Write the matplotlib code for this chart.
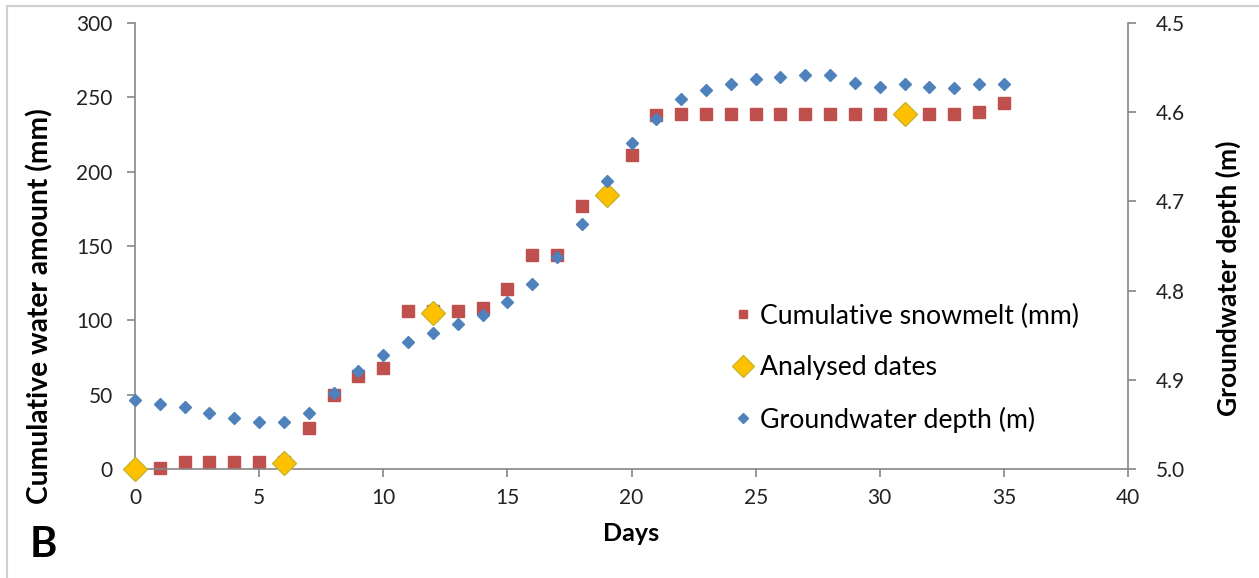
import matplotlib
matplotlib.use("Agg")
import matplotlib.pyplot as plt
from matplotlib.lines import Line2D
from matplotlib.ticker import FormatStrFormatter

plt.rcParams['font.family'] = ['Lato', 'DejaVu Sans']

days = list(range(36))
snowmelt = [0, 0.7, 4.5, 4.5, 4.5, 4.5, 4.5, 27.5, 49.5, 62.5, 68, 106, 106, 106, 108, 121,
            144, 144, 177, 184, 211, 238, 238.5, 238.5, 238.5, 238.5, 238.5, 239, 239, 239,
            239, 239, 239, 239, 240, 246]
analysed_days = [0, 6, 12, 19, 31]
analysed_vals = [0, 4, 105, 184, 239]
groundwater = [4.923, 4.927, 4.930, 4.937, 4.943, 4.947, 4.947, 4.937, 4.915, 4.890,
               4.872, 4.858, 4.848, 4.837, 4.827, 4.813, 4.793, 4.762, 4.725, 4.677,
               4.635, 4.608, 4.585, 4.575, 4.568, 4.563, 4.560, 4.558, 4.558, 4.567,
               4.572, 4.568, 4.572, 4.573, 4.568, 4.568]

W, H = 1259, 578
fig = plt.figure(figsize=(W / 100, H / 100), dpi=100)
ax = fig.add_axes([135 / W, 1 - 469 / H, (1128 - 135) / W, (469 - 23) / H])
ax2 = ax.twinx()

red = '#C0504D'
blue = '#4F81BD'
yellow = '#FFC000'
spine_c = '#868686'

ax.plot(days, snowmelt, linestyle='none', marker='s', markersize=8, color=red,
        markeredgecolor=red, clip_on=False)
ax.plot(analysed_days, analysed_vals, linestyle='none', marker='D', markersize=12,
        color=yellow, markeredgecolor='#C8B62A', markeredgewidth=1, clip_on=False, zorder=3)
ax2.plot(days, groundwater, linestyle='none', marker='D', markersize=6.5, color=blue,
         markeredgecolor=blue, clip_on=False)

ax.set_xlim(0, 40)
ax.set_ylim(0, 300)
ax2.set_ylim(5.0, 4.5)
ax.set_xticks(range(0, 41, 5))
ax.set_yticks(range(0, 301, 50))
ax2.set_yticks([4.5, 4.6, 4.7, 4.8, 4.9, 5.0])
ax2.yaxis.set_major_formatter(FormatStrFormatter('%.1f'))

for a in (ax, ax2):
    for s in a.spines.values():
        s.set_color(spine_c)
        s.set_linewidth(1.2)
    a.spines['top'].set_visible(False)
    a.tick_params(direction='out', length=6, width=1.2, color=spine_c,
                  labelsize=15, labelcolor='#222222', pad=6)
ax.spines['right'].set_visible(False)
ax2.spines['left'].set_visible(False)
ax2.spines['bottom'].set_visible(False)
ax.tick_params(axis='y', pad=10)
ax2.tick_params(axis='y', pad=14)
ax.tick_params(axis='x', pad=8)

xl = ax.set_xlabel('Days', fontsize=18.5, fontweight='bold', labelpad=10)
yl = ax.set_ylabel('Cumulative water amount (mm)', fontsize=19, fontweight='bold',
                   va='center', ha='center')
ax.yaxis.set_label_coords((40 - 135) / 993, (469 - 306) / 446)
yl2 = ax2.set_ylabel('Groundwater depth (m)', fontsize=17.5, fontweight='bold',
                     va='center', ha='center')
ax2.yaxis.set_label_coords((1228 - 135) / 993, (469 - 278) / 446)

handles = [
    Line2D([], [], linestyle='none', marker='s', markersize=6, color=red),
    Line2D([], [], linestyle='none', marker='D', markersize=11, color=yellow,
           markeredgecolor='#C8B62A'),
    Line2D([], [], linestyle='none', marker='D', markersize=5, color=blue),
]
labels = ['Cumulative snowmelt (mm)', 'Analysed dates', 'Groundwater depth (m)']
leg = ax2.legend(handles, labels, loc='upper left',
                 bbox_to_anchor=((719 - 135) / (1128 - 135), (469 - 293) / (469 - 23)),
                 frameon=False, fontsize=19, handletextpad=0.15, labelspacing=1.0,
                 handlelength=1.0, borderaxespad=0)

# size text so its drawn length matches the reference
fig.canvas.draw()
r = fig.canvas.get_renderer()
def fit(t, target, vertical=False):
    bb = t.get_window_extent(r)
    cur = bb.height if vertical else bb.width
    t.set_fontsize(t.get_fontsize() * target / cur)
fit(yl, 395, vertical=True)
fit(yl2, 275, vertical=True)
fit(xl, 56)
fit(leg.get_texts()[0], 319)
fs = leg.get_texts()[0].get_fontsize()
for t in leg.get_texts():
    t.set_fontsize(fs)

fig.text(30 / W, 1 - 545 / H, 'B', fontsize=30, fontweight='bold', va='center', ha='left')

fig.add_artist(Line2D([7 / W, 7 / W], [0, 1 - 6 / H], color='#D0D0D0', lw=1.5,
                      transform=fig.transFigure))
fig.add_artist(Line2D([7 / W, 1], [1 - 6 / H, 1 - 6 / H], color='#D0D0D0', lw=1.5,
                      transform=fig.transFigure))

fig.savefig('out.png', dpi=100, facecolor='white')
